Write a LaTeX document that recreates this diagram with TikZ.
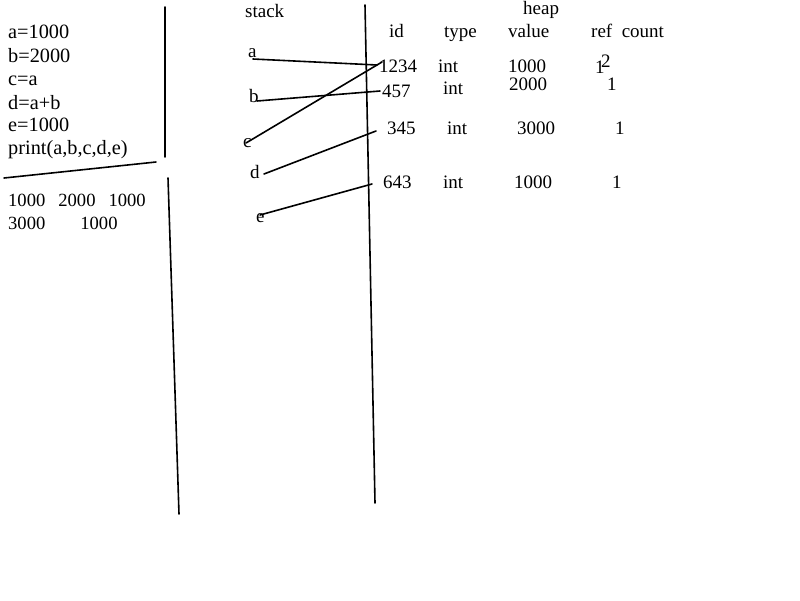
\documentclass[tikz,border=0pt]{standalone}
\usepackage{fontspec}
\setmainfont{Liberation Serif}
\begin{document}
\begin{tikzpicture}[x=1pt,y=-1pt,
  txt/.style={inner sep=0pt, anchor=base west, font=\fontsize{19}{21}\selectfont},
  code/.style={txt, font=\fontsize{20.3}{22}\selectfont},
  outp/.style={txt, font=\fontsize{18.6}{21}\selectfont},
  ln/.style={line width=1.6pt, line cap=round}]
\useasboundingbox[fill=white] (0,0) rectangle (800,600);
% divider lines
\coordinate (v1t) at (165,7);   \coordinate (v1b) at (165,157);
\coordinate (hlL) at (4,178);   \coordinate (hlR) at (156,162);
\coordinate (v2t) at (168,178); \coordinate (v2b) at (179,514);
\coordinate (v3t) at (365,5);   \coordinate (v3b) at (375,503);
\draw[ln] (v1t) -- (v1b);
\draw[ln] (hlL) -- (hlR);
\draw[ln] (v2t) -- (v2b);
\draw[ln] (v3t) -- (v3b);
% code
\node[code] (c1) at (8,38) {a=1000};
\node[code] (c2) at (8,62) {b=2000};
\node[code] (c3) at (8,85) {c=a};
\node[code] (c4) at (8,109) {d=a+b};
\node[code] (c5) at (8,131) {e=1000};
\node[code] (c6) at (8,154) {print(a,b,c,d,e)};
\node[outp] (o1) at (8,206) {1000\hspace{13pt}2000\hspace{13pt}1000};
\node[outp] (o2) at (8,229) {3000\hspace{35pt}1000};
% stack
\node[txt] (stack) at (245,17) {stack};
\node[txt] (sa) at (248,57) {a};
\node[txt] (sb) at (249,102) {b};
\node[txt] (sc) at (243,147) {c};
\node[txt] (sd) at (250,178) {d};
\node[txt] (se) at (256,222) {e};
% heap header
\node[txt] (heap) at (523,14) {heap};
\node[txt] (hid) at (389,37) {id};
\node[txt] (htype) at (444,37) {type};
\node[txt] (hval) at (508,37) {value};
\node[txt] (href) at (591,37) {ref\ \ count};
% rows
\node[txt] (id1) at (379,72) {1234};
\node[txt] at (438,72) {int};
\node[txt] at (508,72) {1000};
\node[txt] (r1) at (595,73) {1};
\node[txt] (r1b) at (601,67) {2};
\node[txt] (id2) at (382,97) {457};
\node[txt] at (443,94) {int};
\node[txt] at (509,90) {2000};
\node[txt] at (607,90) {1};
\node[txt] (id3) at (387,134) {345};
\node[txt] at (447,134) {int};
\node[txt] at (517,134) {3000};
\node[txt] at (615,134) {1};
\node[txt] (id4) at (383,188) {643};
\node[txt] at (443,188) {int};
\node[txt] at (514,188) {1000};
\node[txt] at (612,188) {1};
% connectors
\coordinate (ao) at (253,59);  \coordinate (ai) at (377,65);
\coordinate (bo) at (257,101); \coordinate (bi) at (380,91);
\coordinate (co) at (246,143); \coordinate (ci) at (382,62);
\coordinate (do) at (264,174); \coordinate (di) at (376,131);
\coordinate (eo) at (260,215); \coordinate (ei) at (372,184);
\draw[ln] (ao) -- (ai);
\draw[ln] (bo) -- (bi);
\draw[ln] (co) -- (ci);
\draw[ln] (do) -- (di);
\draw[ln] (eo) -- (ei);
\end{tikzpicture}
\end{document}
